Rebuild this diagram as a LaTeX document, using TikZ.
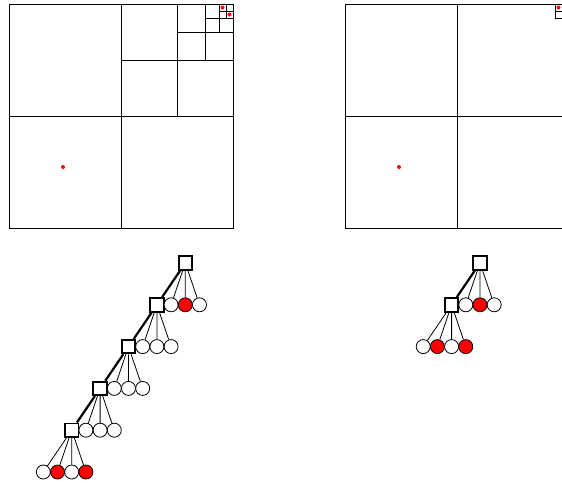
\documentclass[tikz,border=0pt]{standalone}
\begin{document}
\begin{tikzpicture}[x=1pt,y=-1pt,
  inner/.style={draw, line width=1.9pt, fill=white, rectangle, minimum size=13.5pt, inner sep=0pt},
  leaf/.style={draw, line width=0.8pt, fill=white, circle, minimum size=14pt, inner sep=0pt},
  full/.style={leaf, fill=red},
  edge/.style={line width=0.8pt},
  pathedge/.style={line width=2.2pt},
  cell/.style={line width=1pt},
  pt/.style={fill=red, circle, inner sep=0pt, minimum size=4pt}]
\useasboundingbox (0,0) rectangle (562,483);
\clip (0,0) rectangle (562,483);
% ---------- left quadtree ----------
\draw[cell] (9,4) rectangle (233,228);
\draw[cell] (121,4) -- (121,228) (9,116) -- (233,116);
\draw[cell] (177,4) -- (177,116) (121,60) -- (233,60);
\draw[cell] (205,4) -- (205,60) (177,32) -- (233,32);
\draw[cell] (219,4) -- (219,32) (205,18) -- (233,18);
\draw[cell] (226,4) -- (226,18) (219,11) -- (233,11);
\node[pt] (p1) at (63,167) {};
\node[pt] (p2) at (222.5,7.5) {};
\node[pt] (p3) at (229.5,14.5) {};
% ---------- right (compressed) quadtree ----------
\draw[cell] (345,4) rectangle (569,228);
\draw[cell] (457,4) -- (457,228) (345,116) -- (569,116);
\draw[cell] (555,4) rectangle (569,18);
\draw[cell] (562,4) -- (562,18) (555,11) -- (569,11);
\node[pt] (q1) at (399,167) {};
\node[pt] (q2) at (558.5,7.5) {};
\node[pt] (q3) at (565.5,14.5) {};
% ---------- left tree ----------
\node[inner] (a0) at (185.3,263) {};
\node[inner] (a1) at (156.9,304.8) {};
\node[leaf] (a1b) at (171.1,304.8) {};
\node[full] (a1c) at (185.3,304.8) {};
\node[leaf] (a1d) at (199.5,304.8) {};
\node[inner] (a2) at (128.5,346.6) {};
\node[leaf] (a2b) at (142.7,346.6) {};
\node[leaf] (a2c) at (156.9,346.6) {};
\node[leaf] (a2d) at (171.1,346.6) {};
\node[inner] (a3) at (100.1,388.4) {};
\node[leaf] (a3b) at (114.3,388.4) {};
\node[leaf] (a3c) at (128.5,388.4) {};
\node[leaf] (a3d) at (142.7,388.4) {};
\node[inner] (a4) at (71.7,430.2) {};
\node[leaf] (a4b) at (85.9,430.2) {};
\node[leaf] (a4c) at (100.1,430.2) {};
\node[leaf] (a4d) at (114.3,430.2) {};
\node[leaf] (a5a) at (43.3,472) {};
\node[full] (a5b) at (57.5,472) {};
\node[leaf] (a5c) at (71.7,472) {};
\node[full] (a5d) at (85.9,472) {};
\draw[pathedge] (a0) -- (a1) (a1) -- (a2) (a2) -- (a3) (a3) -- (a4);
\draw[edge] (a0) -- (a1b) (a0) -- (a1c) (a0) -- (a1d);
\draw[edge] (a1) -- (a2b) (a1) -- (a2c) (a1) -- (a2d);
\draw[edge] (a2) -- (a3b) (a2) -- (a3c) (a2) -- (a3d);
\draw[edge] (a3) -- (a4b) (a3) -- (a4c) (a3) -- (a4d);
\draw[edge] (a4) -- (a5a) (a4) -- (a5b) (a4) -- (a5c) (a4) -- (a5d);
% ---------- right tree ----------
\node[inner] (b0) at (480,263) {};
\node[inner] (b1) at (451.6,304.8) {};
\node[leaf] (b1b) at (465.8,304.8) {};
\node[full] (b1c) at (480,304.8) {};
\node[leaf] (b1d) at (494.2,304.8) {};
\node[leaf] (b2a) at (423.2,346.6) {};
\node[full] (b2b) at (437.4,346.6) {};
\node[leaf] (b2c) at (451.6,346.6) {};
\node[full] (b2d) at (465.8,346.6) {};
\draw[pathedge] (b0) -- (b1);
\draw[edge] (b0) -- (b1b) (b0) -- (b1c) (b0) -- (b1d);
\draw[edge] (b1) -- (b2a) (b1) -- (b2b) (b1) -- (b2c) (b1) -- (b2d);
\end{tikzpicture}
\end{document}
